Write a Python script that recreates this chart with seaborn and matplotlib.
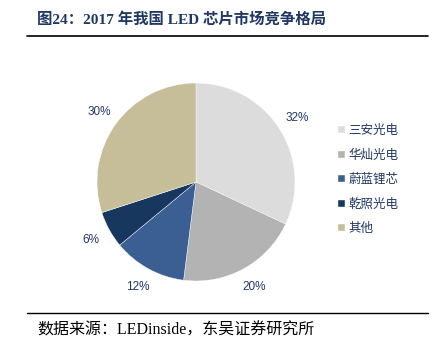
import matplotlib
matplotlib.use("Agg")
import matplotlib.pyplot as plt
from matplotlib.lines import Line2D
import seaborn as sns

# data
companies = ["三安光电", "华灿光电", "蔚蓝锂芯", "乾照光电", "其他"]
shares = [32, 20, 12, 6, 30]
colors = ["#DCDCDC", "#B3B3B3", "#3B5F93", "#17375E", "#C6BE98"]

title = "图24：2017 年我国 LED 芯片市场竞争格局"
source = "数据来源：LEDinside，东吴证券研究所"

sns.set_theme(style="white")
plt.rcParams['font.family'] = ['Noto Sans CJK SC', 'DejaVu Sans']
serif_cjk = ['Liberation Serif', 'Noto Sans CJK SC']

W, H = 434, 356
fig = plt.figure(figsize=(W / 100, H / 100), dpi=100)

# pie axes placed by pixel centre/radius
cx, cy, R, pad = 196, 182, 99, 1.35
w = 2 * R * pad
ax = fig.add_axes([(cx - w / 2) / W, 1 - (cy + w / 2) / H, w / W, w / H])
wedges, texts, autotexts = ax.pie(
    shares, colors=colors, startangle=90, counterclock=False,
    autopct='%d%%', pctdistance=1.21, radius=1,
    wedgeprops=dict(linewidth=0.3, edgecolor='white'),
    textprops=dict(color='#1F3864', fontsize=8.5, family='Liberation Sans'))
ax.set_xlim(-pad, pad)
ax.set_ylim(-pad, pad)
ax.set_aspect('equal')
ax.axis('off')

leg = fig.legend(wedges, companies, loc='upper left',
                 bbox_to_anchor=(327 / W, 1 - 113 / H), frameon=False,
                 handlelength=0.5, handleheight=0.5, handletextpad=0.3,
                 labelspacing=0.92, fontsize=9, labelcolor='#1F3864')

# title and source with rules
fig.text(37 / W, 1 - 19 / H, title, fontsize=11.1, fontweight='bold',
         family=serif_cjk, color='#1F3864', va='center', ha='left')
fig.add_artist(Line2D([27 / W, 428 / W], [1 - 36 / H, 1 - 36 / H],
                      color='black', linewidth=1.2))
fig.add_artist(Line2D([27 / W, 428 / W], [1 - 313 / H, 1 - 313 / H],
                      color='black', linewidth=1.0))
fig.text(37 / W, 1 - 331 / H, source, fontsize=11.5, family=serif_cjk,
         color='black', va='center', ha='left')

fig.savefig("out.png", dpi=100, facecolor='white')
